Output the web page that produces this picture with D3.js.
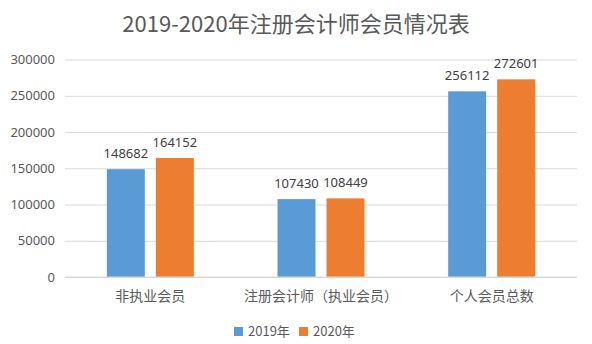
<!DOCTYPE html>
<html><head><meta charset="utf-8">
<script src="https://cdn.jsdelivr.net/npm/d3@7"></script>
<style>body{margin:0;background:#fff;} text{font-family:"Noto Sans CJK SC","Noto Sans",sans-serif;}</style>
</head><body>
<svg id="c" width="592" height="344"></svg>
<script>
const title = "2019-2020年注册会计师会员情况表";
const categories = ["非执业会员", "注册会计师（执业会员）", "个人会员总数"];
const seriesNames = ["2019年", "2020年"];
const values2019 = [148682, 107430, 256112];
const values2020 = [164152, 108449, 272601];
const yTicks = [0, 50000, 100000, 150000, 200000, 250000, 300000];
const colors = ["#5B9BD5", "#ED7D31"];

const svg = d3.select("#c");
const x0 = d3.scaleBand().domain(categories).range([65, 577]).padding(0);
const x1 = d3.scaleBand().domain(seriesNames).range([-43.5, 43.5]).paddingInner(0.2245).paddingOuter(0);
const y = d3.scaleLinear().domain([0, 300000]).range([277, 59.5]);

svg.append("text").attr("x", 296).attr("y", 32).attr("text-anchor", "middle")
  .attr("font-size", 22).attr("fill", "#595959").text(title);

// grid
const yAxis = d3.axisLeft(y).tickValues(yTicks).tickSize(-(577 - 65)).tickFormat(d => String(d)).tickPadding(10);
const ga = svg.append("g").attr("transform", "translate(65,0)").call(yAxis);
ga.select(".domain").remove();
ga.selectAll(".tick line").attr("stroke", "#D9D9D9").attr("stroke-width", 1);
ga.selectAll(".tick text").attr("fill", "#595959").attr("font-size", 13)
  .style("font-family", "'Noto Sans','Noto Sans CJK SC',sans-serif");

const data = categories.map((c, i) => ({cat: c, vals: [values2019[i], values2020[i]]}));
const groups = svg.append("g").selectAll("g").data(data).join("g")
  .attr("transform", d => `translate(${x0(d.cat) + x0.bandwidth() / 2},0)`);
groups.selectAll("rect").data(d => d.vals.map((v, j) => ({s: seriesNames[j], v, j}))).join("rect")
  .attr("x", d => x1(d.s)).attr("width", x1.bandwidth())
  .attr("y", d => y(d.v)).attr("height", d => y(0) - y(d.v))
  .attr("fill", d => colors[d.j]);
groups.selectAll("text.lbl").data(d => d.vals.map((v, j) => ({s: seriesNames[j], v, j}))).join("text")
  .attr("class", "lbl")
  .attr("x", d => x1(d.s) + x1.bandwidth() / 2).attr("y", d => y(d.v) - 11)
  .attr("text-anchor", "middle").attr("font-size", 13).attr("fill", "#404040")
  .style("font-family", "'Noto Sans','Noto Sans CJK SC',sans-serif")
  .text(d => d.v);

// baseline
svg.append("line").attr("x1", 65).attr("x2", 577).attr("y1", y(0)).attr("y2", y(0))
  .attr("stroke", "#D9D9D9").attr("stroke-width", 1);

// x axis labels
const xAxis = d3.axisBottom(x0).tickSize(0).tickPadding(14);
const gx = svg.append("g").attr("transform", `translate(0,${y(0)})`).call(xAxis);
gx.select(".domain").remove();
gx.selectAll(".tick text").attr("fill", "#595959").attr("font-size", 14);

// legend
const leg = svg.append("g");
const legX = [234, 299];
seriesNames.forEach((s, i) => {
  leg.append("rect").attr("x", legX[i]).attr("y", 327).attr("width", 9).attr("height", 9).attr("fill", colors[i]);
  leg.append("text").attr("x", legX[i] + 14).attr("y", 336).attr("font-size", 13).attr("fill", "#595959").text(s);
});
</script>
</body></html>
